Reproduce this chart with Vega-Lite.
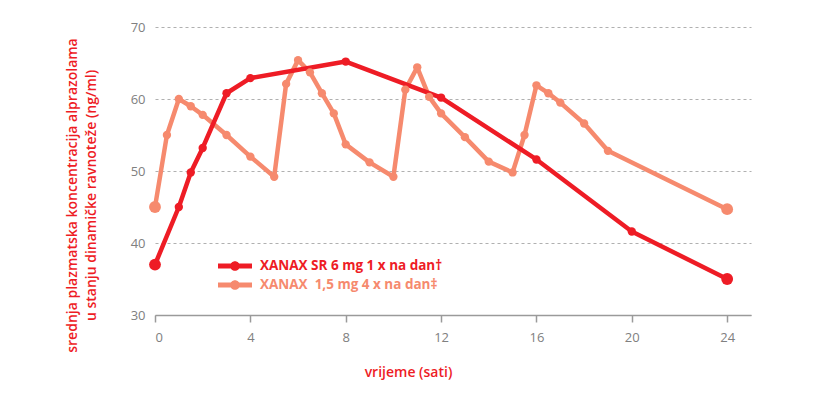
{
  "$schema": "https://vega.github.io/schema/vega-lite/v6.json",
  "width": 596,
  "height": 288,
  "autosize": "none",
  "padding": {"left": 155, "top": 27, "right": 70, "bottom": 82},
  "background": "white",
  "config": {
    "view": {"stroke": null},
    "font": "Open Sans",
    "axis": {
      "labelFont": "Open Sans",
      "labelFontSize": 13,
      "labelColor": "#808080",
      "titleFont": "Open Sans",
      "titleColor": "#ee1c25",
      "titleFontWeight": 600,
      "titleFontSize": 14
    }
  },
  "data": {
    "values": [
      {"series": "XANAX\u00a0 1,5 mg 4 x na dan‡", "t": 0, "c": 45},
      {"series": "XANAX\u00a0 1,5 mg 4 x na dan‡", "t": 0.5, "c": 55},
      {"series": "XANAX\u00a0 1,5 mg 4 x na dan‡", "t": 1, "c": 60},
      {"series": "XANAX\u00a0 1,5 mg 4 x na dan‡", "t": 1.5, "c": 59},
      {"series": "XANAX\u00a0 1,5 mg 4 x na dan‡", "t": 2, "c": 57.8},
      {"series": "XANAX\u00a0 1,5 mg 4 x na dan‡", "t": 3, "c": 55},
      {"series": "XANAX\u00a0 1,5 mg 4 x na dan‡", "t": 4, "c": 52},
      {"series": "XANAX\u00a0 1,5 mg 4 x na dan‡", "t": 5, "c": 49.2},
      {"series": "XANAX\u00a0 1,5 mg 4 x na dan‡", "t": 5.5, "c": 62.1},
      {"series": "XANAX\u00a0 1,5 mg 4 x na dan‡", "t": 6, "c": 65.4},
      {"series": "XANAX\u00a0 1,5 mg 4 x na dan‡", "t": 6.5, "c": 63.7},
      {"series": "XANAX\u00a0 1,5 mg 4 x na dan‡", "t": 7, "c": 60.8},
      {"series": "XANAX\u00a0 1,5 mg 4 x na dan‡", "t": 7.5, "c": 58},
      {"series": "XANAX\u00a0 1,5 mg 4 x na dan‡", "t": 8, "c": 53.7},
      {"series": "XANAX\u00a0 1,5 mg 4 x na dan‡", "t": 9, "c": 51.2},
      {"series": "XANAX\u00a0 1,5 mg 4 x na dan‡", "t": 10, "c": 49.2},
      {"series": "XANAX\u00a0 1,5 mg 4 x na dan‡", "t": 10.5, "c": 61.3},
      {"series": "XANAX\u00a0 1,5 mg 4 x na dan‡", "t": 11, "c": 64.4},
      {"series": "XANAX\u00a0 1,5 mg 4 x na dan‡", "t": 11.5, "c": 60.3},
      {"series": "XANAX\u00a0 1,5 mg 4 x na dan‡", "t": 12, "c": 58},
      {"series": "XANAX\u00a0 1,5 mg 4 x na dan‡", "t": 13, "c": 54.7},
      {"series": "XANAX\u00a0 1,5 mg 4 x na dan‡", "t": 14, "c": 51.3},
      {"series": "XANAX\u00a0 1,5 mg 4 x na dan‡", "t": 15, "c": 49.8},
      {"series": "XANAX\u00a0 1,5 mg 4 x na dan‡", "t": 15.5, "c": 55},
      {"series": "XANAX\u00a0 1,5 mg 4 x na dan‡", "t": 16, "c": 61.9},
      {"series": "XANAX\u00a0 1,5 mg 4 x na dan‡", "t": 16.5, "c": 60.8},
      {"series": "XANAX\u00a0 1,5 mg 4 x na dan‡", "t": 17, "c": 59.5},
      {"series": "XANAX\u00a0 1,5 mg 4 x na dan‡", "t": 18, "c": 56.6},
      {"series": "XANAX\u00a0 1,5 mg 4 x na dan‡", "t": 19, "c": 52.8},
      {"series": "XANAX\u00a0 1,5 mg 4 x na dan‡", "t": 24, "c": 44.7},
      {"series": "XANAX SR 6 mg 1 x na dan†", "t": 0, "c": 37},
      {"series": "XANAX SR 6 mg 1 x na dan†", "t": 1, "c": 45},
      {"series": "XANAX SR 6 mg 1 x na dan†", "t": 1.5, "c": 49.8},
      {"series": "XANAX SR 6 mg 1 x na dan†", "t": 2, "c": 53.2},
      {"series": "XANAX SR 6 mg 1 x na dan†", "t": 3, "c": 60.8},
      {"series": "XANAX SR 6 mg 1 x na dan†", "t": 4, "c": 62.9},
      {"series": "XANAX SR 6 mg 1 x na dan†", "t": 8, "c": 65.2},
      {"series": "XANAX SR 6 mg 1 x na dan†", "t": 12, "c": 60.2},
      {"series": "XANAX SR 6 mg 1 x na dan†", "t": 16, "c": 51.6},
      {"series": "XANAX SR 6 mg 1 x na dan†", "t": 20, "c": 41.6},
      {"series": "XANAX SR 6 mg 1 x na dan†", "t": 24, "c": 35}
    ]
  },
  "encoding": {
    "x": {
      "field": "t",
      "type": "quantitative",
      "scale": {"domain": [0, 25], "nice": false, "zero": false},
      "axis": {
        "values": [0, 4, 8, 12, 16, 20, 24],
        "grid": false,
        "domainColor": "#9a9a9a",
        "domainWidth": 1.5,
        "tickColor": "#9a9a9a",
        "tickWidth": 1.5,
        "tickSize": 7,
        "labelPadding": 9,
        "title": "vrijeme (sati)",
        "titleFontSize": 14,
        "titleX": 253,
        "titleY": 50,
        "titleAnchor": null
      }
    },
    "y": {
      "field": "c",
      "type": "quantitative",
      "scale": {"domain": [30, 70], "nice": false, "zero": false},
      "axis": {
        "values": [30, 40, 50, 60, 70],
        "domain": false,
        "ticks": false,
        "labelPadding": 10,
        "grid": true,
        "gridColor": "#b0b0b0",
        "gridDash": [3, 3],
        "gridWidth": 1.2,
        "title": ["srednja plazmatska koncentracija alprazolama", "u stanju dinamičke ravnoteže (ng/ml)"],
        "titleLineHeight": 19,
        "titleX": -76,
        "titleY": 168
      }
    },
    "color": {
      "field": "series",
      "type": "nominal",
      "scale": {
        "domain": ["XANAX SR 6 mg 1 x na dan†", "XANAX\u00a0 1,5 mg 4 x na dan‡"],
        "range": ["#ee1c25", "#f68a6e"]
      },
      "legend": {
        "orient": "none",
        "legendX": 70,
        "legendY": 229,
        "padding": 0,
        "title": null,
        "symbolType": "M-1.7,-0.24L1.7,-0.24L1.7,0.24L-1.7,0.24Z M-0.48,0A0.48,0.48 0 1,1 0.48,0A0.48,0.48 0 1,1 -0.48,0Z",
        "symbolSize": 400,
        "symbolStrokeWidth": 0,
        "symbolOpacity": 1,
        "labelFont": "Open Sans",
        "labelFontSize": 13.5,
        "labelFontWeight": "bold",
        "labelOffset": 15,
        "labelLimit": 0,
        "rowPadding": 2,
        "encode": {
          "labels": {"update": {"fill": {"scale": "color", "field": "value"}}},
          "symbols": {"update": {"fill": {"scale": "color", "field": "value"}, "strokeWidth": {"value": 0}}}
        }
      }
    }
  },
  "layer": [
    {
      "mark": {"type": "line", "strokeWidth": 4.5, "strokeJoin": "round"},
      "encoding": {}
    },
    {
      "mark": {"type": "point", "filled": true, "opacity": 1},
      "encoding": {
        "size": {
          "condition": {"test": "datum.t == 0 || datum.t == 24", "value": 140},
          "value": 70
        }
      }
    }
  ]
}
